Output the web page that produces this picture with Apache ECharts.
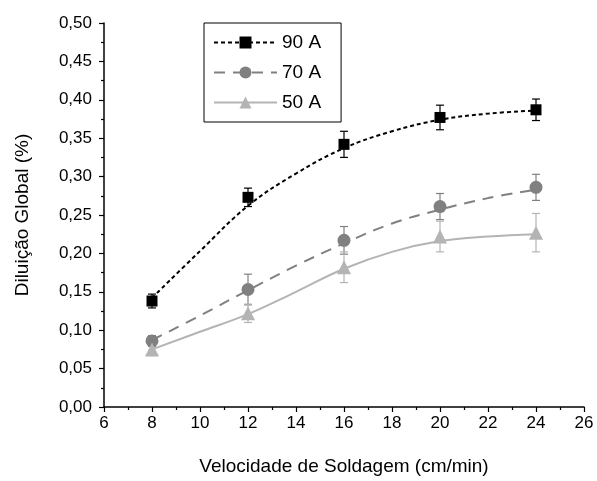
<!DOCTYPE html>
<html>
<head>
<meta charset="utf-8">
<script src="https://cdn.jsdelivr.net/npm/echarts@6/dist/echarts.min.js"></script>
<style>
  html, body { margin: 0; padding: 0; background: #fff; }
  #chart { width: 597px; height: 481px; }
</style>
</head>
<body>
<div id="chart"></div>
<script>
// measured points (mean and error)
var speeds = [8, 12, 16, 20, 24];
var dil90 = [0.138, 0.273, 0.342, 0.377, 0.387];
var err90 = [0.009, 0.012, 0.017, 0.016, 0.014];
var dil70 = [0.086, 0.153, 0.217, 0.261, 0.286];
var err70 = [0.007, 0.020, 0.018, 0.017, 0.017];
var dil50 = [0.075, 0.122, 0.182, 0.222, 0.227];
var err50 = [0.008, 0.012, 0.020, 0.020, 0.025];

// fitted curves
var fitX = [8, 10, 12, 14, 16, 18, 20, 22, 24];
var fit90 = [0.142, 0.203, 0.262, 0.304, 0.337, 0.359, 0.374, 0.382, 0.386];
var fit70 = [0.087, 0.119, 0.152, 0.184, 0.213, 0.239, 0.257, 0.272, 0.283];
var fit50 = [0.075, 0.098, 0.121, 0.150, 0.180, 0.202, 0.216, 0.222, 0.225];

var names = ["90 A", "70 A", "50 A"];
var colors = ["#000000", "#808080", "#b4b4b4"];
var FONT = "Liberation Sans, Arial, sans-serif";

function pairs(xs, ys) {
  return xs.map(function (x, i) { return [x, ys[i]]; });
}
function bars(xs, ys, es) {
  return xs.map(function (x, i) { return [x, ys[i] - es[i], ys[i] + es[i]]; });
}

function errorSeries(data, color) {
  return {
    type: "custom",
    data: data,
    encode: { x: 0, y: [1, 2] },
    z: 3,
    silent: true,
    renderItem: function (params, api) {
      var x = api.value(0);
      var lo = api.coord([x, api.value(1)]);
      var hi = api.coord([x, api.value(2)]);
      var w = 4;
      var st = { stroke: color, lineWidth: 1.2 };
      return {
        type: "group",
        children: [
          { type: "line", shape: { x1: lo[0], y1: lo[1], x2: hi[0], y2: hi[1] }, style: st },
          { type: "line", shape: { x1: lo[0] - w, y1: lo[1], x2: lo[0] + w, y2: lo[1] }, style: st },
          { type: "line", shape: { x1: hi[0] - w, y1: hi[1], x2: hi[0] + w, y2: hi[1] }, style: st }
        ]
      };
    }
  };
}

function fitSeries(name, data, color, dash, symbol) {
  return {
    name: name,
    type: "line",
    data: data,
    smooth: 0.4,
    symbol: symbol,
    showSymbol: false,
    itemStyle: { color: color },
    lineStyle: { color: color, width: 2, type: dash },
    z: 2
  };
}

function pointSeries(data, color, symbol, size) {
  return {
    name: "pts",
    type: "scatter",
    data: data,
    symbol: symbol,
    symbolSize: size,
    itemStyle: { color: color, opacity: 1 },
    z: 4
  };
}

var chart = echarts.init(document.getElementById("chart"));

var option = {
  animation: false,
  backgroundColor: "#fff",
  grid: { left: 104, right: 13, top: 23, bottom: 73 },
  legend: {
    data: names,
    orient: "vertical",
    left: 204,
    top: 23,
    padding: [10, 20, 10, 9],
    itemWidth: 63,
    itemHeight: 15,
    itemGap: 11,
    borderColor: "#000",
    borderWidth: 1,
    textStyle: { fontFamily: FONT, fontSize: 19, color: "#000" }
  },
  xAxis: {
    type: "value",
    min: 6,
    max: 26,
    interval: 2,
    name: "Velocidade de Soldagem (cm/min)",
    nameLocation: "middle",
    nameGap: 50,
    nameTextStyle: { fontFamily: FONT, fontSize: 19, color: "#000" },
    axisLine: { onZero: false, lineStyle: { color: "#000", width: 1.5 } },
    axisTick: { length: 5, lineStyle: { color: "#000", width: 1.2 } },
    minorTick: { show: true, splitNumber: 2, length: 3, lineStyle: { color: "#000", width: 1.2 } },
    axisLabel: { fontFamily: FONT, fontSize: 17, color: "#000", margin: 8 },
    splitLine: { show: false }
  },
  yAxis: {
    type: "value",
    min: 0,
    max: 0.5,
    interval: 0.05,
    name: "Diluição Global (%)",
    nameLocation: "middle",
    nameGap: 72,
    nameTextStyle: { fontFamily: FONT, fontSize: 19, color: "#000" },
    axisLine: { show: true, onZero: false, lineStyle: { color: "#000", width: 1.5 } },
    axisTick: { show: true, length: 5, lineStyle: { color: "#000", width: 1.2 } },
    minorTick: { show: true, splitNumber: 2, length: 3, lineStyle: { color: "#000", width: 1.2 } },
    axisLabel: {
      fontFamily: FONT,
      fontSize: 17,
      color: "#000",
      margin: 12,
      formatter: function (v) { return v.toFixed(2).replace(".", ","); }
    },
    splitLine: { show: false }
  },
  series: [
    fitSeries(names[0], pairs(fitX, fit90), colors[0], [4, 3], "rect"),
    fitSeries(names[1], pairs(fitX, fit70), colors[1], [11, 8], "circle"),
    fitSeries(names[2], pairs(fitX, fit50), colors[2], "solid", "triangle"),
    errorSeries(bars(speeds, dil90, err90), colors[0]),
    errorSeries(bars(speeds, dil70, err70), colors[1]),
    errorSeries(bars(speeds, dil50, err50), colors[2]),
    pointSeries(pairs(speeds, dil90), colors[0], "rect", 11),
    pointSeries(pairs(speeds, dil70), colors[1], "circle", 13),
    pointSeries(pairs(speeds, dil50), colors[2], "triangle", 14)
  ]
};

chart.setOption(option);
</script>
</body>
</html>
